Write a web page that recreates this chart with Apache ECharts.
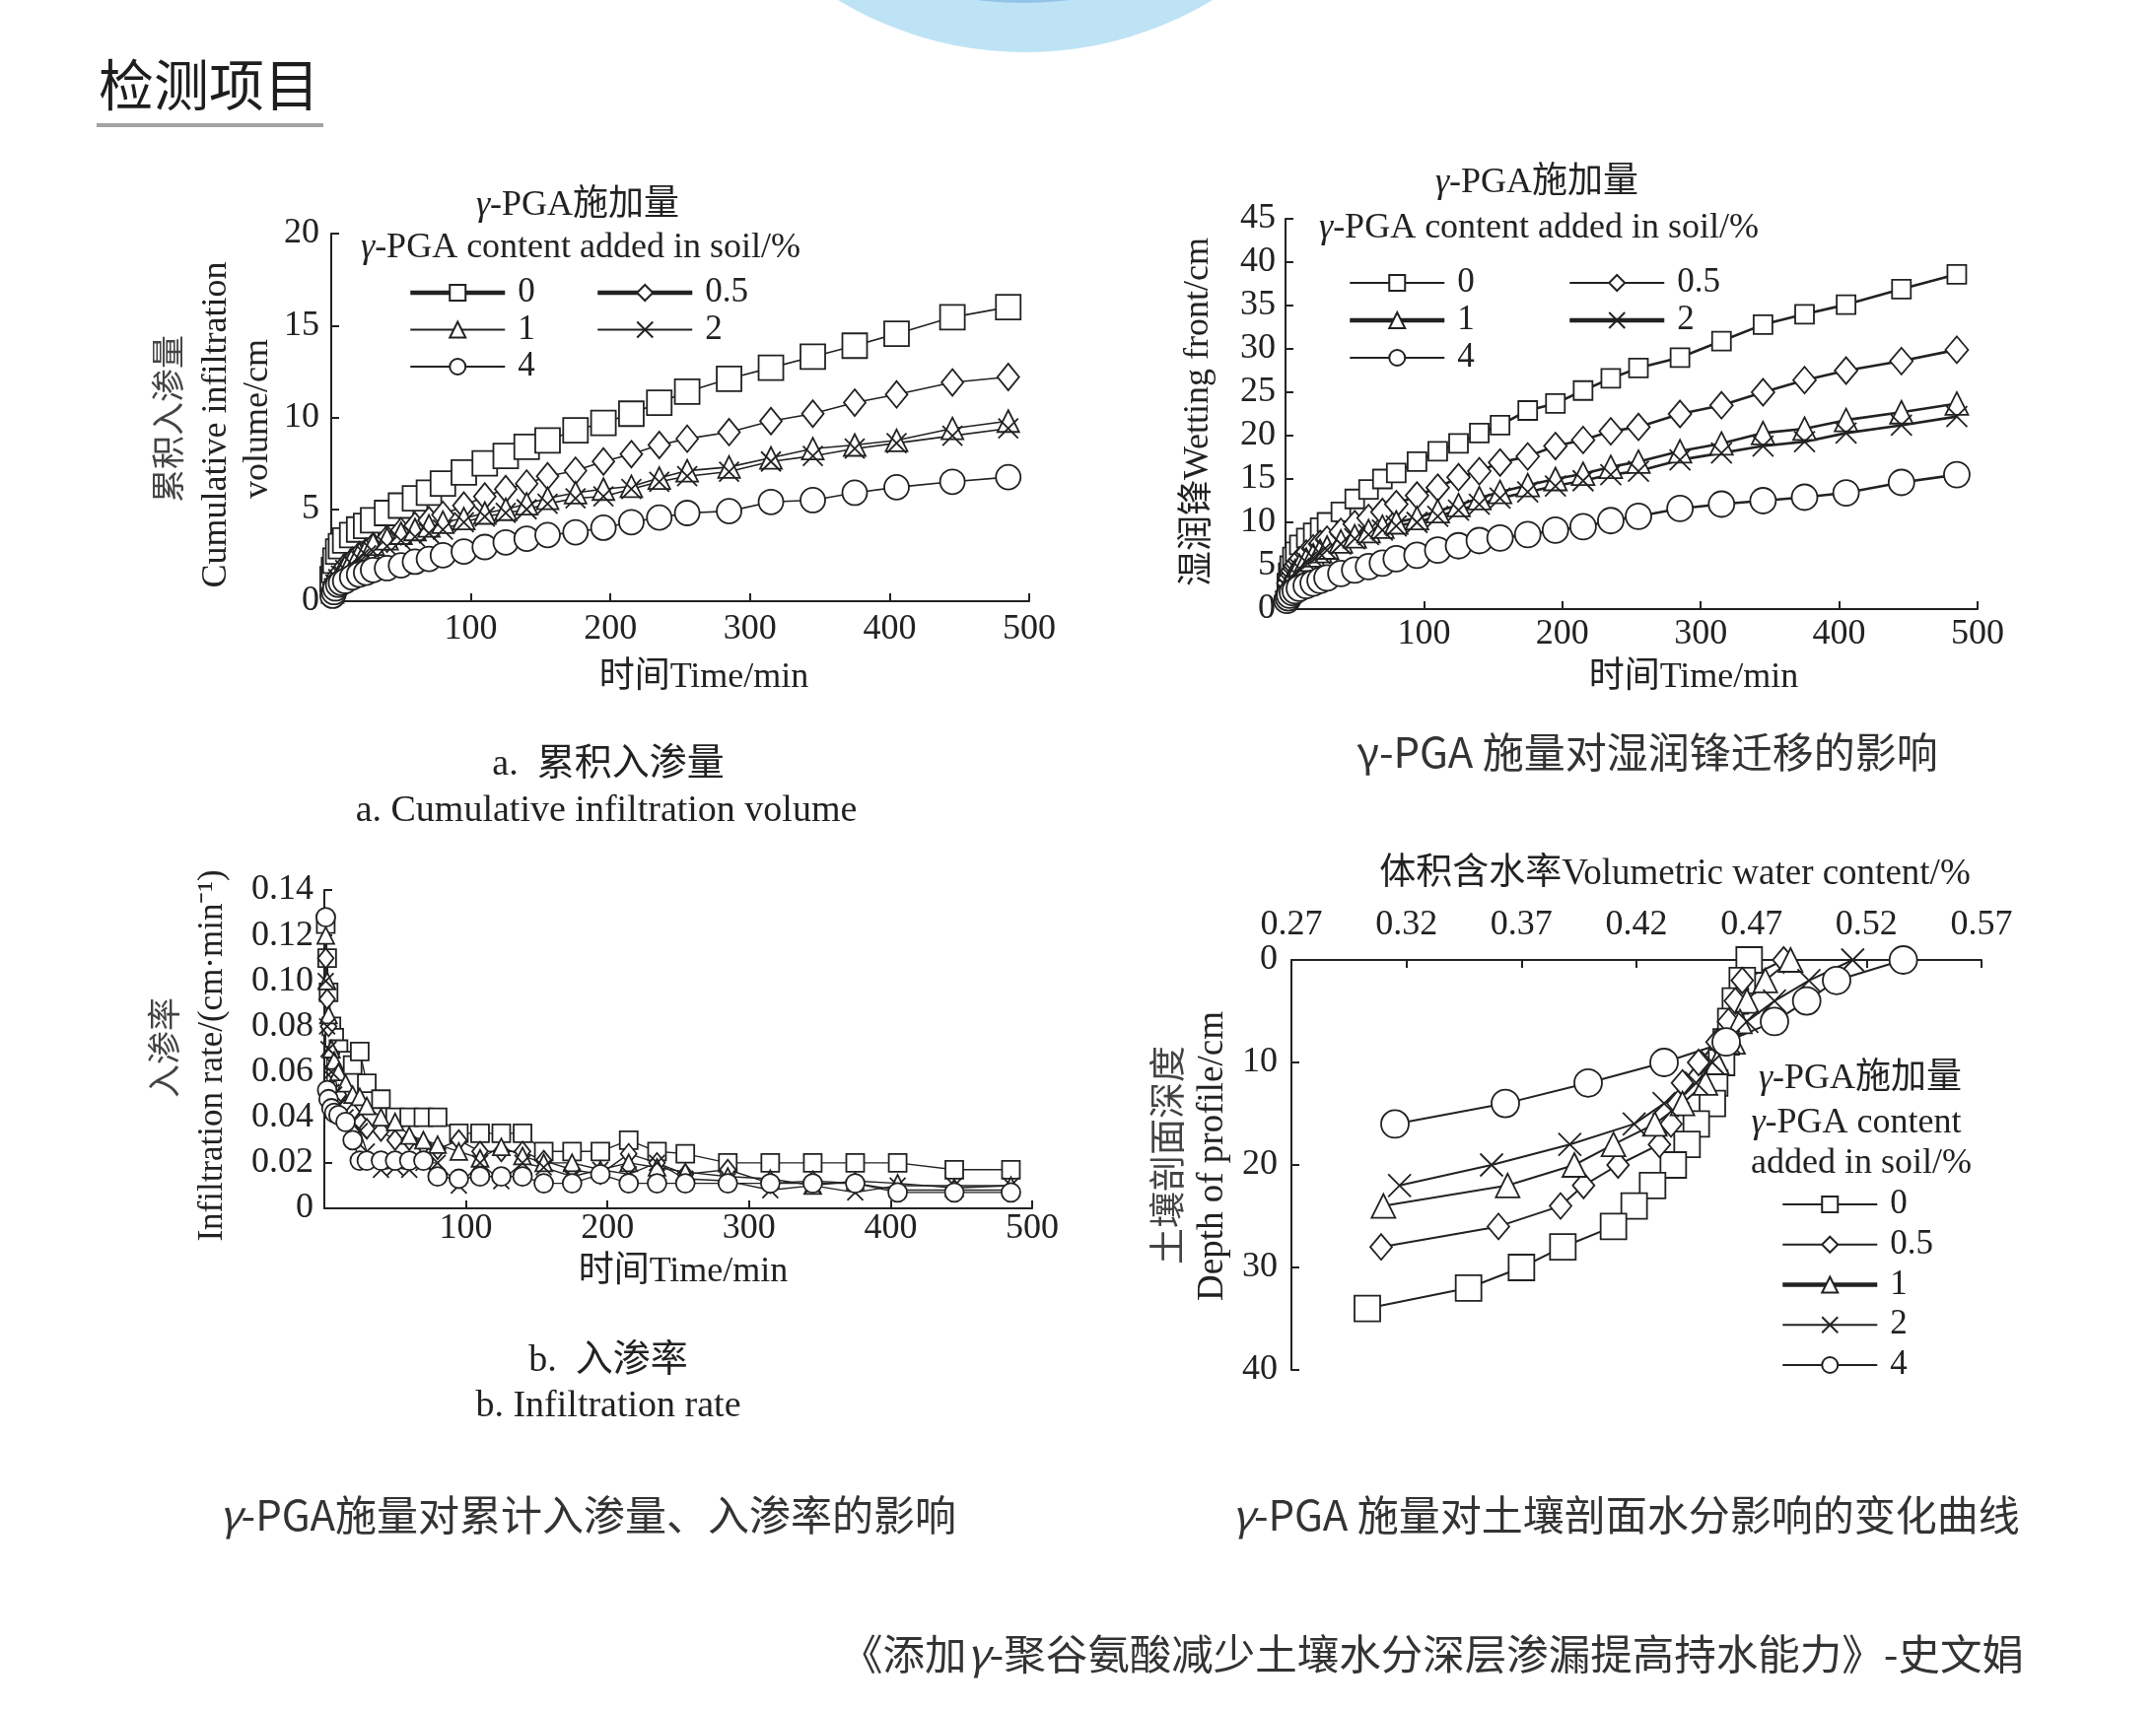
<!DOCTYPE html>
<html>
<head>
<meta charset="utf-8">
<script src="https://cdn.jsdelivr.net/npm/echarts@6/dist/echarts.min.js"></script>
<style>
html,body{margin:0;padding:0;background:#fff;}
#c{width:2187px;height:1735px;}
</style>
</head>
<body>
<div id="c"></div>
<script>
// ---------- DATA ----------
// time points (min) shared by panels a, b and the wetting-front panel
const timeMin = [1,2,3,5,7,10,15,20,25,30,40,50,60,70,80,95,110,125,140,155,175,195,215,235,255,285,315,345,375,405,445,485];
const doseNames = ['0','0.5','1','2','4'];

// a. cumulative infiltration volume (cm)
const cumInf_0   = [1.2,1.7,2.2,2.7,3.0,3.3,3.6,3.9,4.1,4.4,4.8,5.2,5.6,5.9,6.4,7.0,7.5,7.9,8.4,8.75,9.3,9.7,10.2,10.8,11.4,12.1,12.7,13.3,13.9,14.55,15.45,16.0];
const cumInf_05  = [0.6,0.9,1.1,1.4,1.6,1.9,2.2,2.5,2.7,3.0,3.4,3.8,4.1,4.4,4.7,5.2,5.7,6.1,6.4,6.8,7.1,7.6,8.0,8.5,8.84,9.2,9.8,10.2,10.8,11.25,11.9,12.2];
const cumInf_1   = [0.5,0.8,1.0,1.3,1.6,1.9,2.3,2.6,2.8,3.1,3.4,3.7,3.9,4.1,4.3,4.5,4.8,5.0,5.3,5.6,5.9,6.1,6.25,6.7,7.1,7.3,7.8,8.3,8.5,8.75,9.4,9.8];
const cumInf_2   = [0.4,0.7,0.9,1.2,1.4,1.7,2.0,2.3,2.5,2.7,3.0,3.3,3.5,3.7,3.9,4.3,4.6,4.8,5.0,5.3,5.6,5.7,6.1,6.5,6.8,7.05,7.6,7.9,8.3,8.6,9.0,9.4];
const cumInf_4   = [0.3,0.5,0.7,0.9,1.0,1.1,1.3,1.45,1.55,1.7,1.8,1.95,2.15,2.3,2.5,2.7,2.95,3.2,3.4,3.6,3.75,4.0,4.3,4.55,4.8,4.9,5.4,5.5,5.9,6.2,6.5,6.75];

// b. infiltration rate (cm/min)
const rate_0  = [0.125,0.11,0.095,0.08,0.075,0.07,0.065,0.063,0.069,0.055,0.048,0.04,0.04,0.04,0.04,0.033,0.033,0.033,0.033,0.025,0.025,0.025,0.03,0.025,0.024,0.02,0.02,0.02,0.02,0.02,0.017,0.017];
const rate_05 = [0.11,0.092,0.08,0.068,0.06,0.05,0.045,0.042,0.038,0.035,0.034,0.03,0.03,0.028,0.026,0.03,0.025,0.025,0.025,0.021,0.017,0.015,0.024,0.02,0.015,0.017,0.011,0.012,0.011,0.008,0.008,0.008];
const rate_1  = [0.12,0.1,0.085,0.07,0.065,0.06,0.055,0.05,0.049,0.045,0.04,0.038,0.032,0.03,0.028,0.025,0.022,0.027,0.023,0.02,0.02,0.017,0.02,0.018,0.016,0.014,0.013,0.01,0.012,0.011,0.009,0.01];
const rate_2  = [0.1,0.08,0.07,0.06,0.05,0.045,0.04,0.038,0.034,0.025,0.017,0.018,0.017,0.02,0.02,0.01,0.02,0.012,0.02,0.018,0.014,0.017,0.015,0.02,0.013,0.012,0.008,0.01,0.007,0.01,0.01,0.01];
const rate_4  = [0.128,0.052,0.048,0.044,0.042,0.041,0.038,0.03,0.021,0.021,0.021,0.021,0.021,0.021,0.014,0.013,0.014,0.014,0.014,0.011,0.011,0.015,0.011,0.011,0.011,0.011,0.011,0.011,0.011,0.007,0.007,0.007];

// wetting front (cm)
const wet_0  = [3.0,4.2,5.0,6.0,6.6,7.4,8.2,8.8,9.4,10.0,11.2,12.7,13.8,15.0,15.7,17.0,18.2,19.1,20.3,21.2,22.9,23.7,25.2,26.6,27.8,29.0,30.9,32.8,34.0,35.1,36.9,38.6];
const wet_05 = [2.0,3.0,3.6,4.4,5.0,5.6,6.4,7.0,7.5,8.0,8.9,9.8,10.5,11.2,12.1,13.1,14.0,15.2,15.9,16.9,17.6,18.8,19.5,20.5,21.0,22.5,23.5,25.0,26.4,27.5,28.6,29.9];
const wet_1  = [1.8,2.6,3.2,3.9,4.4,5.0,5.7,6.2,6.7,7.1,7.8,8.4,9.0,9.5,10.0,10.5,11.3,12.0,12.8,13.5,14.3,15.0,15.6,16.4,17.0,18.2,19.1,20.3,20.8,21.8,22.7,23.7];
const wet_2  = [1.6,2.4,2.9,3.6,4.1,4.7,5.4,5.9,6.4,6.8,7.5,8.1,8.6,9.1,9.6,10.0,10.7,11.4,12.1,12.8,13.5,14.2,14.8,15.5,15.9,17.2,18.0,18.8,19.3,20.3,21.2,22.2];
const wet_4  = [1.0,1.3,1.6,1.9,2.1,2.4,2.7,3.0,3.3,3.6,4.1,4.5,4.9,5.3,5.8,6.2,6.8,7.3,7.9,8.2,8.6,9.1,9.5,10.2,10.7,11.6,12.1,12.5,12.9,13.4,14.6,15.5];

// soil profile: depth (cm) and volumetric water content
const depth_0  = [0,2,4,6,8,10,12,14,16,18,20,22,24,26,28,30,32,34];
const vwc_0    = [0.469,0.466,0.463,0.461,0.459,0.457,0.454,0.453,0.446,0.442,0.436,0.427,0.419,0.41,0.388,0.37,0.347,0.303];
const depth_05 = [0,2,4,6,8,10,12,14,16,18,20,22,24,26,28];
const vwc_05   = [0.484,0.466,0.463,0.46,0.455,0.447,0.44,0.438,0.435,0.43,0.412,0.397,0.387,0.36,0.309];
const depth_1  = [0,2,4,6,8,10,12,14,16,18,20,22,24];
const vwc_1    = [0.487,0.476,0.468,0.465,0.462,0.455,0.45,0.44,0.428,0.41,0.393,0.364,0.31];
const depth_2  = [0,2,4,6,8,10,12,14,16,18,20,22];
const vwc_2    = [0.514,0.495,0.48,0.468,0.46,0.453,0.446,0.432,0.419,0.391,0.357,0.317];
const depth_4  = [0,2,4,6,8,10,12,14,16];
const vwc_4    = [0.536,0.507,0.494,0.48,0.459,0.432,0.399,0.363,0.315];

// tick settings
const timeTicks = {min:0, max:500, interval:100};
const vwcTicks = {min:0.27, max:0.57, interval:0.05};

// ---------- STYLE ----------
const SERIF = "'Liberation Serif','Times New Roman','Noto Sans CJK SC',serif";
const SANS = "'Noto Sans CJK SC','Noto Sans',sans-serif";
const INK = '#222';
const TICK_FS = 36;
const X_SYMBOL = 'path://M0,0L10,10M10,0L0,10';
const SYMS = ['rect','diamond','triangle',X_SYMBOL,'circle'];

function lbl(margin, formatter){
  const o = {color:INK,fontFamily:SERIF,fontSize:TICK_FS,margin};
  if (formatter) o.formatter = formatter;
  return o;
}
function axis(extra){
  return Object.assign({
    type:'value',
    axisLine:{show:true,onZero:false,lineStyle:{color:INK,width:2}},
    axisTick:{show:true,inside:true,length:8,lineStyle:{color:INK,width:2}},
    splitLine:{show:false},
    axisLabel:lbl(12)
  }, extra);
}
function pairs(xs, ys){ return xs.map((x,i)=>[x, ys[i]]); }
function line(name, idx, data, sym, size, lw){
  return {
    type:'line', name, xAxisIndex:idx, yAxisIndex:idx, data,
    symbol:sym, symbolSize:size, showSymbol:true, clip:false,
    lineStyle:{color:INK,width:lw},
    itemStyle:{color:'#fff',borderColor:INK,borderWidth:1.8},
    emphasis:{disabled:true}, z:3
  };
}
function legend(left, top, names, gap, bold){
  return {
    orient:'vertical', left, top, padding:0, itemGap:gap,
    itemWidth:96, itemHeight:20, selectedMode:false,
    data:names.map(n => (bold && bold.indexOf(n) >= 0) ? {name:n, lineStyle:{width:4.5}} : n),
    formatter:n=>n.split('_')[1],
    textStyle:{color:INK,fontFamily:SERIF,fontSize:35,lineHeight:36,padding:[0,0,0,8]}
  };
}
function txt(x,y,text,size,family,o){
  o = o||{};
  const fill = o.fill||INK;
  return {type:'text', x, y, rotation:o.rot||0, z:100, silent:true,
    style:{text, fill, fontSize:size, fontFamily:family, fontWeight:o.weight||'normal',
      align:o.align||'center', verticalAlign:'middle',
      rich:{it:{fontStyle:'italic',fontSize:size,fontFamily:family,fill}}}};
}

const cumSets  = [cumInf_0,cumInf_05,cumInf_1,cumInf_2,cumInf_4];
const rateSets = [rate_0,rate_05,rate_1,rate_2,rate_4];
const wetSets  = [wet_0,wet_05,wet_1,wet_2,wet_4];
const profX = [vwc_0,vwc_05,vwc_1,vwc_2,vwc_4];
const profY = [depth_0,depth_05,depth_1,depth_2,depth_4];

const sizesA = [25,[22,27],22,20,25];
const sizesB = [18,[16,20],17,16,19];
const sizesC = [19,[23,27],23,21,26];
const sizesD = [26,[22,26],24,23,28];

const series = [];
doseNames.forEach((d,i)=>{
  series.push(line('a_'+d,0,pairs(timeMin,cumSets[i]),SYMS[i],sizesA[i],1.6));
});
doseNames.forEach((d,i)=>{
  series.push(line('b_'+d,1,pairs(timeMin,rateSets[i]),SYMS[i],sizesB[i],1.4));
});
doseNames.forEach((d,i)=>{
  series.push(line('c_'+d,2,pairs(timeMin,wetSets[i]),SYMS[i],sizesC[i],2.6));
});
doseNames.forEach((d,i)=>{
  series.push(line('d_'+d,3,pairs(profX[i],profY[i]),SYMS[i],sizesD[i],2));
});

const noZero = v => v===0 ? '' : String(v);

const option = {
  animation:false,
  backgroundColor:'#fff',
  grid:[
    {left:336, top:237, width:708, height:373, outerBoundsMode:'none'},
    {left:329, top:903, width:718, height:323, outerBoundsMode:'none'},
    {left:1304, top:222, width:702, height:396, outerBoundsMode:'none'},
    {left:1310, top:974, width:700, height:416, outerBoundsMode:'none'}
  ],
  xAxis:[
    axis(Object.assign({gridIndex:0, axisLabel:lbl(11, noZero)}, timeTicks)),
    axis(Object.assign({gridIndex:1, axisLabel:lbl(3, noZero)}, timeTicks)),
    axis(Object.assign({gridIndex:2, axisLabel:lbl(8, noZero)}, timeTicks)),
    axis(Object.assign({gridIndex:3, position:'top', axisLabel:lbl(17, v=>v.toFixed(2))}, vwcTicks))
  ],
  yAxis:[
    axis({gridIndex:0, min:0, max:20, interval:5, axisLabel:lbl(12)}),
    axis({gridIndex:1, min:0, max:0.14, interval:0.02, axisLabel:lbl(11, v=>v===0?'0':v.toFixed(2))}),
    axis({gridIndex:2, min:0, max:45, interval:5, axisLabel:lbl(10)}),
    axis({gridIndex:3, min:0, max:40, interval:10, inverse:true, axisLabel:lbl(14)})
  ],
  legend:[
    legend(414, 279, ['a_0','a_1','a_4'], 1.5, ['a_0']),
    legend(604, 279, ['a_0.5','a_2'], 1.5, ['a_0.5']),
    legend(1367, 269, ['c_0','c_1','c_4'], 2, ['c_1']),
    legend(1590, 269, ['c_0.5','c_2'], 2, ['c_2']),
    legend(1806, 1204, ['d_0','d_0.5','d_1','d_2','d_4'], 4.75, ['d_1'])
  ],
  series,
  graphic:[
    {type:'circle', shape:{cx:1040, cy:-314, r:367}, style:{fill:'#bde3f5'}, z:-10, silent:true},
    {type:'circle', shape:{cx:1038, cy:-360, r:363}, style:{fill:'#94c3e8'}, z:-9, silent:true},
    txt(100, 86, '检测项目', 56, SANS, {align:'left', fill:'#1e1e1e'}),
    {type:'rect', shape:{x:98, y:125, width:230, height:4}, style:{fill:'#a3a3a3'}, silent:true},

    // panel a
    txt(586, 209, '{it|γ}-PGA施加量', 36, SERIF),
    txt(589, 252, '{it|γ}-PGA content added in soil/%', 36, SERIF),
    txt(174, 425, '累积入渗量', 34, SERIF, {rot:Math.PI/2, fill:'#444'}),
    txt(220, 431, 'Cumulative infiltration', 36, SERIF, {rot:Math.PI/2}),
    txt(262, 425, 'volume/cm', 36, SERIF, {rot:Math.PI/2}),
    txt(714, 688, '时间Time/min', 36, SERIF),
    txt(617, 776, 'a.  累积入渗量', 38, SERIF),
    txt(615, 823, 'a. Cumulative infiltration volume', 38, SERIF),

    // panel b
    txt(170, 1063, '入渗率', 34, SERIF, {rot:Math.PI/2, fill:'#444'}),
    txt(216, 1071, 'Infiltration rate/(cm·min⁻¹)', 35, SERIF, {rot:Math.PI/2}),
    txt(693, 1291, '时间Time/min', 36, SERIF),
    txt(617, 1381, 'b.  入渗率', 38, SERIF),
    txt(617, 1427, 'b. Infiltration rate', 38, SERIF),

    // wetting front panel
    txt(1559, 186, '{it|γ}-PGA施加量', 36, SERIF),
    txt(1561, 232, '{it|γ}-PGA content added in soil/%', 36, SERIF),
    txt(1216, 418, '湿润锋Wetting front/cm', 36, SERIF, {rot:Math.PI/2}),
    txt(1718, 688, '时间Time/min', 36, SERIF),
    txt(1671, 763, 'γ-PGA 施量对湿润锋迁移的影响', 42, SANS, {fill:'#333'}),

    // profile panel
    txt(1699, 887, '体积含水率Volumetric water content/%', 37, SERIF),
    txt(1188, 1172, '土壤剖面深度', 37, SERIF, {rot:Math.PI/2, fill:'#444'}),
    txt(1230, 1173, 'Depth of profile/cm', 37, SERIF, {rot:Math.PI/2}),
    txt(1887, 1095, '{it|γ}-PGA施加量', 36, SERIF),
    txt(1883, 1140, '{it|γ}-PGA content', 36, SERIF),
    txt(1888, 1181, 'added in soil/%', 36, SERIF),

    // bottom captions
    txt(596, 1537, '{it|γ}-PGA施量对累计入渗量、入渗率的影响', 42, SANS, {fill:'#333'}),
    txt(1649, 1537, '{it|γ}-PGA 施量对土壤剖面水分影响的变化曲线', 42, SANS, {fill:'#333'}),
    txt(2053, 1678, '《添加{it|γ}-聚谷氨酸减少土壤水分深层渗漏提高持水能力》-史文娟', 42.5, SANS, {align:'right', fill:'#333'})
  ]
};

const chart = echarts.init(document.getElementById('c'), null, {renderer:'canvas'});
chart.setOption(option);
</script>
</body>
</html>
